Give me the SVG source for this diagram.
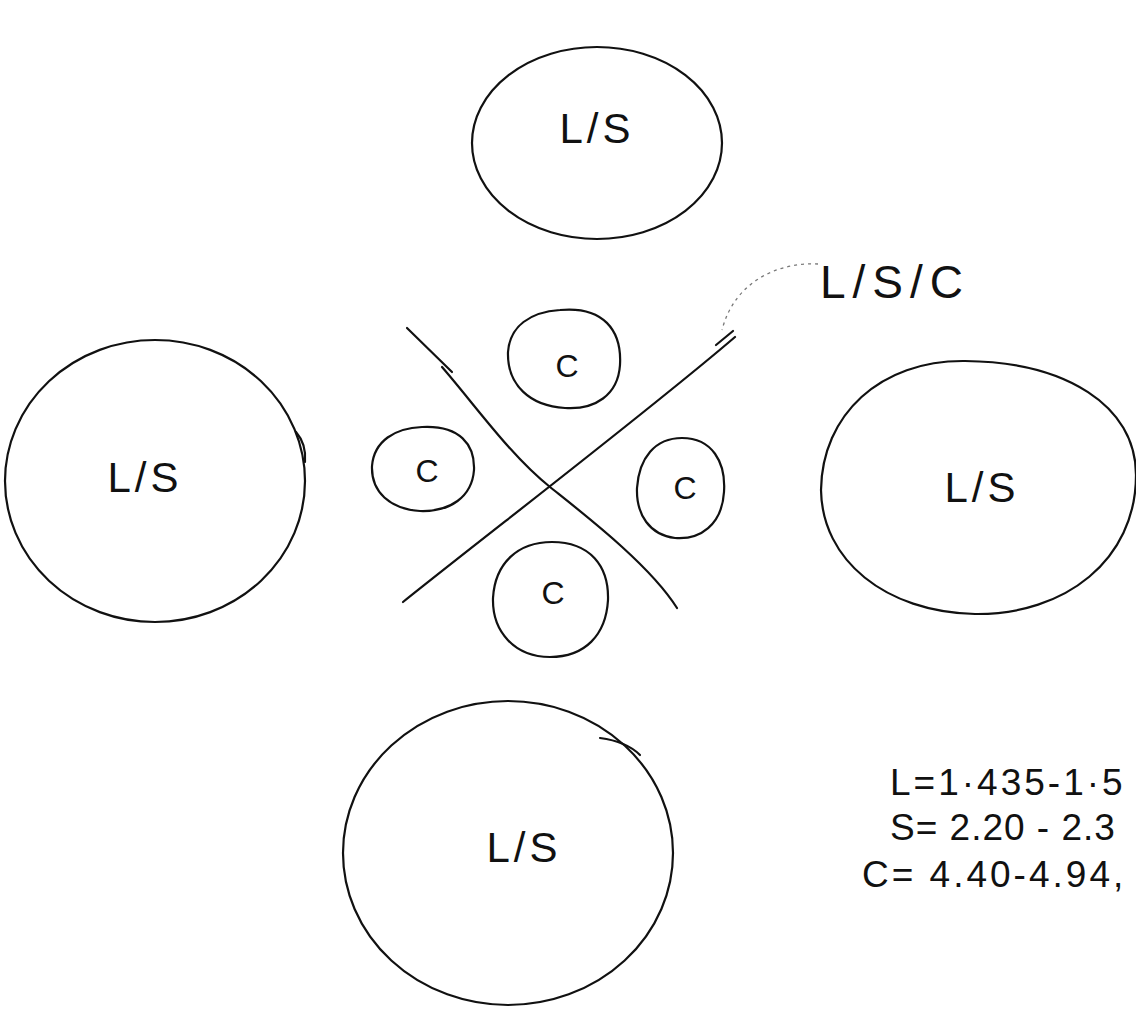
<svg xmlns="http://www.w3.org/2000/svg" width="1136" height="1013" viewBox="0 0 1136 1013">
<style>
.ring{fill:none;stroke:#111;stroke-width:2.2}
.lbl{font-family:"Liberation Sans",Arial,sans-serif;font-size:42px;fill:#111;text-anchor:middle;letter-spacing:4px}
.sm{font-family:"Liberation Sans",Arial,sans-serif;font-size:32px;fill:#111;text-anchor:middle}
.eq{font-family:"Liberation Sans",Arial,sans-serif;font-size:37px;fill:#111;letter-spacing:3px}
.ln{fill:none;stroke:#111;stroke-width:2.2;stroke-linecap:round}
</style>
<rect width="1136" height="1013" fill="#fff"/>
<g id="ls-top"><ellipse class="ring" cx="597" cy="143" rx="125" ry="96"/><text class="lbl" x="597" y="143">L/S</text></g>
<g id="ls-left"><ellipse class="ring" cx="155" cy="481" rx="150" ry="141"/><path class="ln" d="M296 432 C303 440 306 450 305 462"/><text class="lbl" x="145" y="492">L/S</text></g>
<g id="ls-right"><path class="ring" d="M965 361 C1065 362 1136 405 1136 475 C1136 560 1065 615 975 614 C885 612 822 560 821 490 C822 415 880 360 965 361 Z"/><text class="lbl" x="982" y="502">L/S</text></g>
<g id="ls-bottom"><ellipse class="ring" cx="508" cy="853" rx="165" ry="152"/><path class="ln" d="M600 738 C615 740 630 745 640 755"/><text class="lbl" x="524" y="862">L/S</text></g>
<g id="c-top"><path class="ring" d="M560 310 C603 306 622 330 620 365 C618 395 595 410 565 408 C530 406 507 385 508 352 C510 326 530 312 560 310 Z"/><text class="sm" x="567" y="377">C</text></g>
<g id="c-left"><path class="ring" d="M422 427 C460 425 475 445 474 470 C472 497 450 512 420 511 C390 509 371 492 372 466 C374 441 395 428 422 427 Z"/><text class="sm" x="427" y="482">C</text></g>
<g id="c-right"><path class="ring" d="M682 438 C712 438 726 462 724 492 C722 525 700 540 675 538 C650 535 636 515 637 488 C639 458 655 438 682 438 Z"/><text class="sm" x="685" y="499">C</text></g>
<g id="c-bottom"><path class="ring" d="M552 542 C590 542 609 566 608 600 C606 635 585 657 550 657 C515 657 492 632 493 598 C495 563 518 542 552 542 Z"/><text class="sm" x="553" y="604">C</text></g>
<g id="connectors">
<path class="ln" d="M407 328 L452 372"/>
<path class="ln" d="M442 367 C475 405 510 455 550 487 C585 515 650 565 677 608"/>
<path class="ln" d="M403 602 C480 540 650 410 735 337"/>
<path class="ln" d="M716 345 L733 331"/>
<path fill="none" stroke="#777" stroke-width="1.3" stroke-dasharray="3 4" d="M818 264 C780 262 735 280 722 330"/>
</g>
<g id="ls-c-label"><text class="lbl" x="820" y="298" style="text-anchor:start;font-size:46px;letter-spacing:7px">L/S/C</text></g>
<g id="legend">
<text class="eq" x="890" y="795">L=1·435-1·5</text>
<text class="eq" x="890" y="840" style="letter-spacing:1px">S= 2.20 - 2.3</text>
<text class="eq" x="862" y="887">C= 4.40-4.94,</text>
</g>
</svg>
